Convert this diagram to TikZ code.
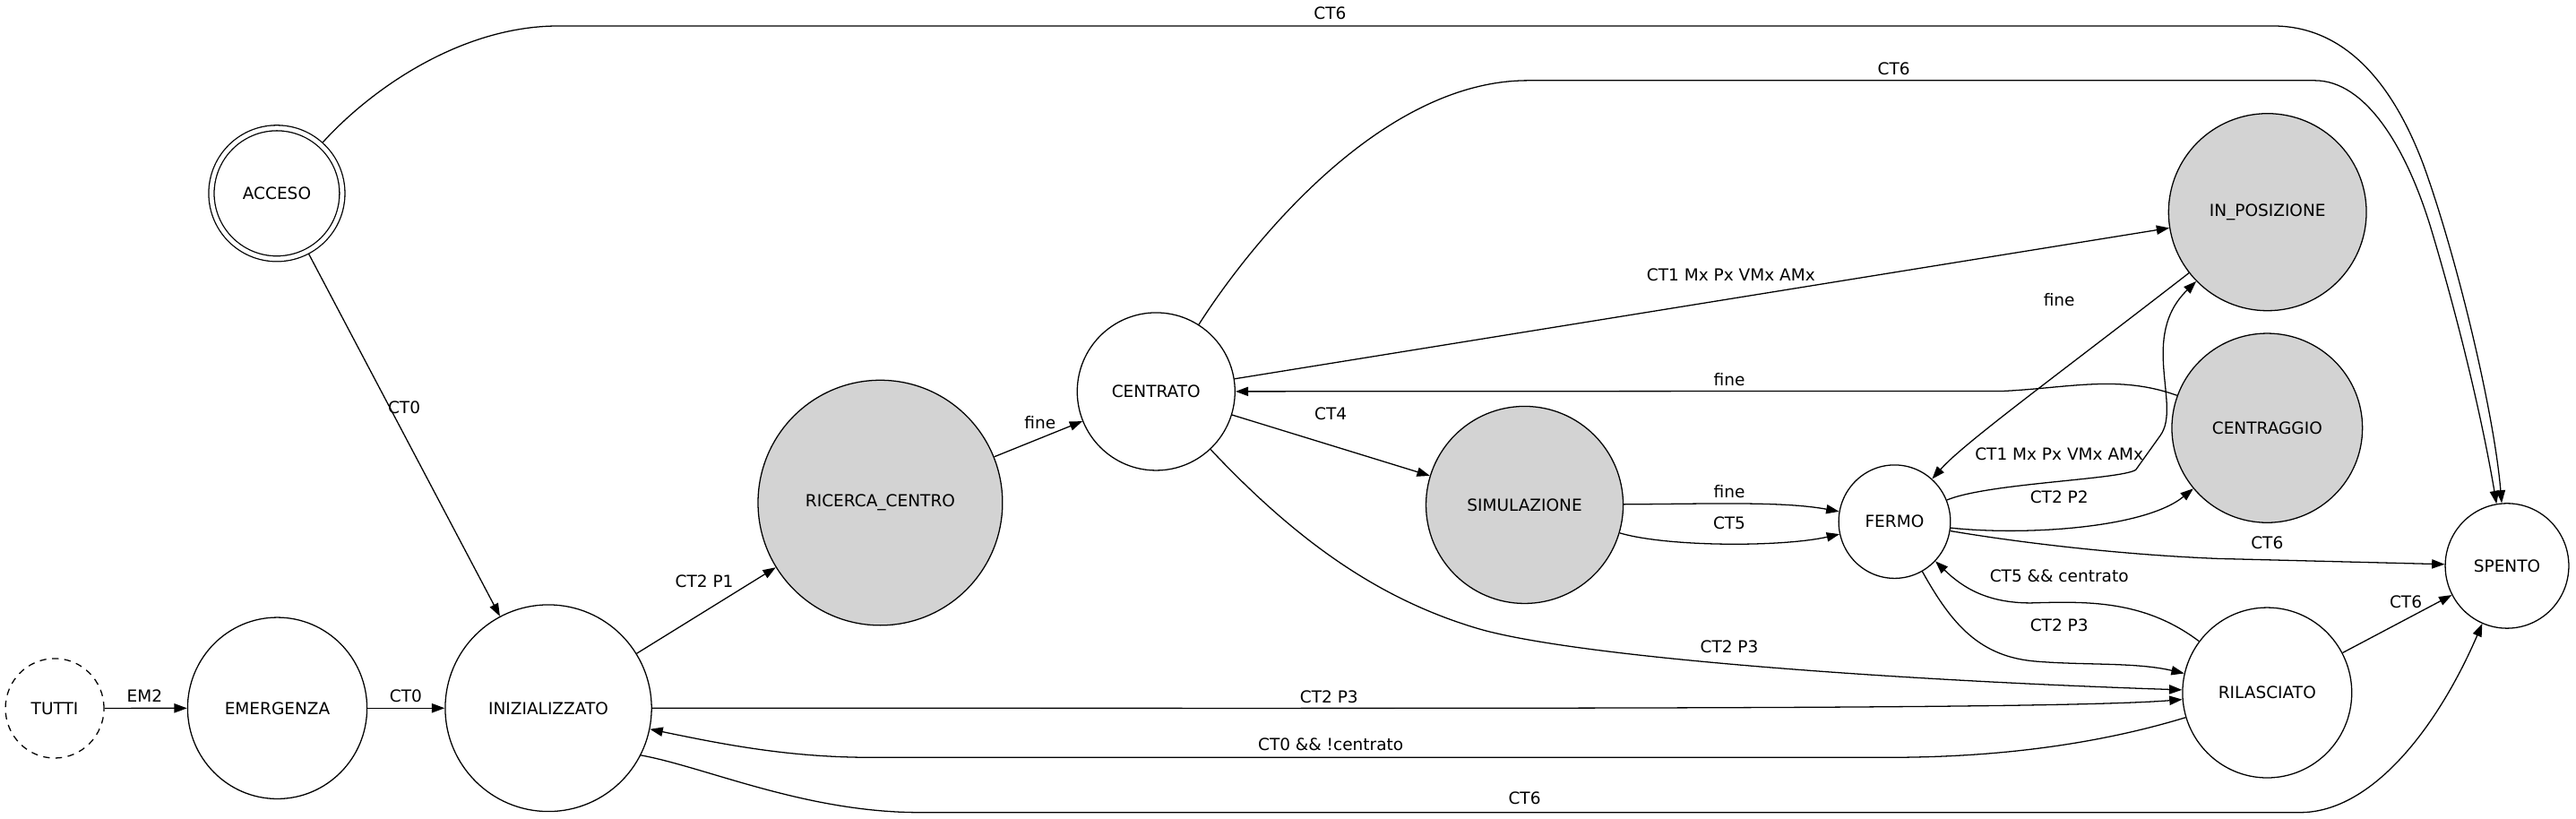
\documentclass[tikz,border=0pt]{standalone}
\usepackage{fontspec}
\setmainfont{DejaVu Sans}
\usetikzlibrary{shapes.geometric,arrows.meta}
\definecolor{lgray}{HTML}{D3D3D3}
\begin{document}
\begin{tikzpicture}[x=1pt,y=-1pt,
  every node/.style={font=\fontsize{10.1}{12}\selectfont},
  st/.style={draw,ellipse,line width=0.7pt,inner sep=0pt},
  gst/.style={st,fill=lgray},
  edge/.style={line width=0.7pt,-{Triangle[length=7.8pt,width=5.6pt]}},
  lbl/.style={inner sep=0pt}]
\useasboundingbox (0,0) rectangle (1568,498);
% states
\node[st,dash pattern=on 4pt off 3.5pt,minimum width=60pt,minimum height=60.6pt] (TUTTI) at (33.3,431.1) {TUTTI};
\node[st,minimum width=109.2pt,minimum height=110.4pt] (EMERG) at (168.8,431) {EMERGENZA};
\node[st,minimum width=125.6pt,minimum height=125.8pt] (INIZ) at (333.8,431) {INIZIALIZZATO};
\node[st,double,double distance=2.6pt,outer sep=1.7pt,minimum width=79.6pt,minimum height=79.6pt] (ACCESO) at (168.5,117.7) {ACCESO};
\node[gst,minimum width=148.8pt,minimum height=149.2pt] (RC) at (535.8,306) {RICERCA\_CENTRO};
\node[st,minimum width=96pt,minimum height=96pt] (CENTRATO) at (703.7,238.3) {CENTRATO};
\node[gst,minimum width=120pt,minimum height=120pt] (SIM) at (928,307.3) {SIMULAZIONE};
\node[st,minimum width=68pt,minimum height=69pt] (FERMO) at (1153.2,317.5) {FERMO};
\node[gst,minimum width=120.4pt,minimum height=120pt] (INPOS) at (1380.2,129.1) {IN\_POSIZIONE};
\node[gst,minimum width=116pt,minimum height=115.2pt] (CENTRAGGIO) at (1380,260.5) {CENTRAGGIO};
\node[st,minimum width=103pt,minimum height=103.6pt] (RIL) at (1380,421.6) {RILASCIATO};
\node[st,minimum width=75.2pt,minimum height=76pt] (SPENTO) at (1526,344.4) {SPENTO};
% edges
\draw[edge] (TUTTI) -- (EMERG);
\draw[edge] (EMERG) -- (INIZ);
\draw[edge] (ACCESO) -- (INIZ);
\draw[edge] (ACCESO) .. controls (225,55) and (280,15.8) .. (340,15.8) -- (1383.5,15.8)
  .. controls (1430,15.8) and (1458,55) .. (1475,100) .. controls (1495,155) and (1518,250) .. (SPENTO);
\draw[edge] (CENTRATO) .. controls (760,150) and (840,49) .. (930,49) -- (1409,49)
  .. controls (1440,49) and (1465,90) .. (1480,140) .. controls (1495,190) and (1510,250) .. (SPENTO);
\draw[edge] (INIZ) -- (RC);
\draw[edge] (RC) -- (CENTRATO);
\draw[edge] (CENTRATO) -- (INPOS);
\draw[edge] (CENTRAGGIO) .. controls (1290,228) and (1260,236) .. (1220,238) -- (CENTRATO);
\draw[edge] (CENTRATO) -- (SIM);
\draw[edge] (CENTRATO) .. controls (790,330) and (840,365) .. (900,382.7) .. controls (960,400) and (1150,414) .. (RIL);
\draw[edge] (SIM) .. controls (1040,306.7) and (1085,305) .. (FERMO);
\draw[edge] (SIM) .. controls (1015,333) and (1085,333) .. (FERMO);
\draw[edge] (INPOS) .. controls (1250,230) and (1195,270) .. (FERMO);
\draw[edge] (FERMO) .. controls (1210,294) and (1290,292) .. (1300,286) -- (1315,265)
  .. controls (1328,247) and (1302,205) .. (INPOS);
\draw[edge] (FERMO) .. controls (1230,326) and (1305,322) .. (CENTRAGGIO);
\draw[edge] (FERMO) .. controls (1240,332) and (1300,338) .. (1350,340) -- (SPENTO);
\draw[edge] (RIL) .. controls (1305,365) and (1270,366) .. (1236,367) .. controls (1210,367) and (1195,358) .. (FERMO);
\draw[edge] (FERMO) .. controls (1188,380) and (1205,400) .. (1240,402.6) .. controls (1270,405) and (1300,403) .. (RIL);
\draw[edge] (INIZ) .. controls (900,431) and (1250,432) .. (RIL);
\draw[edge] (RIL) .. controls (1280,452) and (1220,461) .. (1150,461) -- (530,461) .. controls (480,461) and (440,453) .. (INIZ);
\draw[edge] (INIZ.-27) .. controls (430,467) and (490,494.5) .. (560,494.5) -- (1400,494.5)
  .. controls (1445,494.5) and (1485,440) .. (SPENTO);
\draw[edge] (RIL) -- (SPENTO);
% labels
\node[lbl] (lEM2) at (88,423.6) {EM2};
\node[lbl] (lCT0a) at (247,423.6) {CT0};
\node[lbl] (lCT0b) at (246,248) {CT0};
\node[lbl] (lCT6a) at (809.6,8.2) {CT6};
\node[lbl] (lCT6b) at (1152.8,41.8) {CT6};
\node[lbl] (lCT2P1) at (428.7,353.6) {CT2 P1};
\node[lbl] (lfineA) at (633.1,257.3) {fine};
\node[lbl] (lCT1a) at (1053.6,167.3) {CT1 Mx Px VMx AMx};
\node[lbl] (lfineB) at (1052.6,231) {fine};
\node[lbl] (lCT4) at (810,252) {CT4};
\node[lbl] (lCT2P3a) at (1052.6,393.8) {CT2 P3};
\node[lbl] (lfineC) at (1052.6,299.4) {fine};
\node[lbl] (lCT5) at (1052.6,318.5) {CT5};
\node[lbl] (lfineD) at (1253.4,182.7) {fine};
\node[lbl] (lCT1b) at (1253.4,276.5) {CT1 Mx Px VMx AMx};
\node[lbl] (lCT2P2) at (1253.4,302.7) {CT2 P2};
\node[lbl] (lCT6c) at (1380,330.5) {CT6};
\node[lbl] (lCT5c) at (1253.4,350.8) {CT5 \&\& centrato};
\node[lbl] (lCT2P3b) at (1253.4,380.8) {CT2 P3};
\node[lbl] (lCT2P3c) at (809,424) {CT2 P3};
\node[lbl] (lCT0c) at (810,453) {CT0 \&\& !centrato};
\node[lbl] (lCT6d) at (928,486) {CT6};
\node[lbl] (lCT6e) at (1464.4,366.6) {CT6};
\end{tikzpicture}
\end{document}
